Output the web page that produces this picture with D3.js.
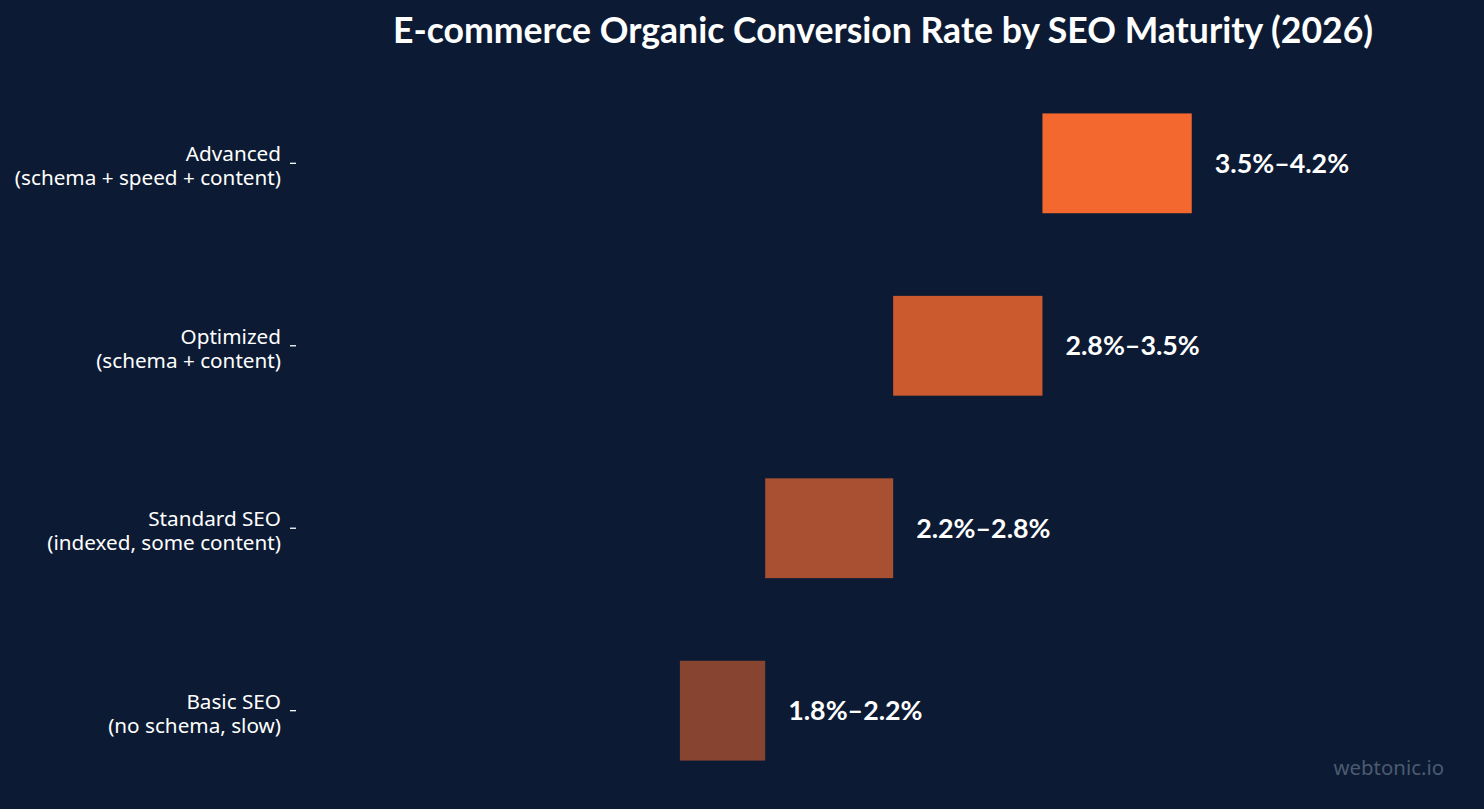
<!DOCTYPE html>
<html><head><meta charset="utf-8">
<script src="https://cdn.jsdelivr.net/npm/d3@7"></script>
<style>html,body{margin:0;padding:0;background:#0c1b33;}</style>
</head><body>
<svg id="chart" width="1484" height="809"></svg>
<script>
const categories = ["Advanced", "Optimized", "Standard SEO", "Basic SEO"];
const subLabels = ["(schema + speed + content)", "(schema + content)", "(indexed, some content)", "(no schema, slow)"];
const lowValues = [3.5, 2.8, 2.2, 1.8];
const highValues = [4.2, 3.5, 2.8, 2.2];
const valueLabels = ["3.5%–4.2%", "2.8%–3.5%", "2.2%–2.8%", "1.8%–2.2%"];
const barColors = ["#f2682e", "#cc5a2f", "#a95032", "#864431"];

const svg = d3.select("#chart");
svg.append("rect").attr("width",1484).attr("height",809).attr("fill","#0c1b33");

const x = d3.scaleLinear().domain([0,5.5]).range([296,1469]);
const y = d3.scaleBand().domain(categories).range([72,802]).paddingInner(0.453).paddingOuter(0.227);

const data = categories.map((c,i)=>({c, sub:subLabels[i], lo:lowValues[i], hi:highValues[i], lab:valueLabels[i], col:barColors[i]}));

svg.selectAll("rect.bar").data(data).join("rect").attr("class","bar")
  .attr("x",d=>x(d.lo)).attr("width",d=>x(d.hi)-x(d.lo))
  .attr("y",d=>y(d.c)).attr("height",y.bandwidth()).attr("fill",d=>d.col);

svg.selectAll("text.val").data(data).join("text").attr("class","val")
  .attr("x",d=>x(d.hi)+23).attr("y",d=>y(d.c)+y.bandwidth()/2).attr("dy","0.35em")
  .attr("fill","#ffffff").attr("font-family","Lato").attr("font-weight","bold").attr("font-size",26.8)
  .text(d=>d.lab);

const yAxis = d3.axisLeft(y).tickSize(6).tickPadding(9).tickFormat("");
const ag = svg.append("g").attr("transform","translate(296,0)").call(yAxis);
ag.select(".domain").remove();
ag.selectAll(".tick line").attr("stroke","#ffffff").attr("stroke-width",1.3);
ag.selectAll(".tick").each(function(d,i){
  const t = d3.select(this).append("text").attr("fill","#ffffff").attr("text-anchor","end")
    .attr("font-family","Noto Sans").attr("font-size",20.7).attr("x",-15);
  t.append("tspan").attr("x",-15).attr("y",-2).text(d);
  t.append("tspan").attr("x",-15).attr("y",22).text(subLabels[i]);
});

svg.append("text").attr("x",883).attr("y",43).attr("text-anchor","middle")
  .attr("fill","#ffffff").attr("font-family","Lato").attr("font-weight","bold").attr("font-size",35.6)
  .text("E-commerce Organic Conversion Rate by SEO Maturity (2026)");

svg.append("text").attr("x",1444).attr("y",775).attr("text-anchor","end")
  .attr("fill","#4b5a70").attr("font-family","Noto Sans").attr("font-size",20.4)
  .text("webtonic.io");
</script>
</body></html>
